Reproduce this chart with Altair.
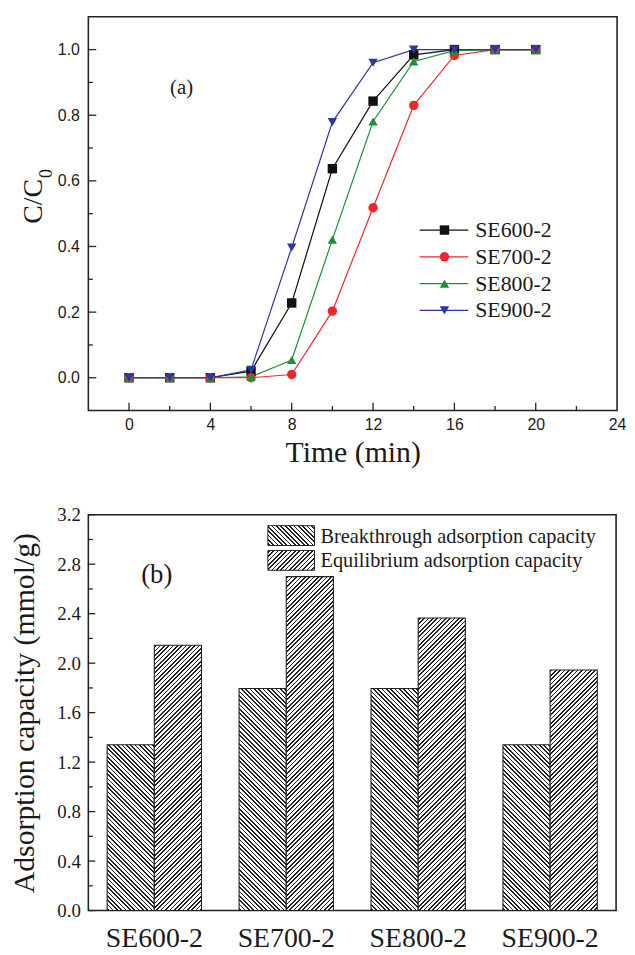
import math
import altair as alt
import pandas as pd

# ---------------- panel (a): breakthrough curves ----------------
time_min = [0, 2, 4, 6, 8, 10, 12, 14, 16, 18, 20]
series_names = ["SE600-2", "SE700-2", "SE800-2", "SE900-2"]
ratio_se600 = [0.0, 0.0, 0.0, 0.020, 0.228, 0.637, 0.843, 0.984, 1.0, 1.0, 1.0]
ratio_se700 = [0.0, 0.0, 0.0, 0.000, 0.010, 0.203, 0.518, 0.830, 0.982, 1.0, 1.0]
ratio_se800 = [0.0, 0.0, 0.0, 0.003, 0.054, 0.421, 0.781, 0.964, 0.997, 1.0, 1.0]
ratio_se900 = [0.0, 0.0, 0.0, 0.024, 0.397, 0.779, 0.960, 1.0, 1.0, 1.0, 1.0]
series_colors = ["#111111", "#f0262b", "#1f9035", "#2b36a8"]
series_shapes = ["square", "circle", "triangle-up", "triangle-down"]
x_major = [0, 4, 8, 12, 16, 20, 24]
x_minor = [2, 6, 10, 14, 18, 22]
y_major = [0.0, 0.2, 0.4, 0.6, 0.8, 1.0]
y_minor = [0.1, 0.3, 0.5, 0.7, 0.9]

# ---------------- panel (b): adsorption capacities ----------------
samples = ["SE600-2", "SE700-2", "SE800-2", "SE900-2"]
breakthrough = [1.34, 1.795, 1.795, 1.34]
equilibrium = [2.145, 2.70, 2.365, 1.945]
cap_kinds = ["Breakthrough adsorption capacity", "Equilibrium adsorption capacity"]
b_major = [0.0, 0.4, 0.8, 1.2, 1.6, 2.0, 2.4, 2.8, 3.2]
b_minor = [0.2, 0.6, 1.0, 1.4, 1.8, 2.2, 2.6, 3.0]

A_W, A_H = 533, 397
B_W, B_H = 532, 399
SERIF = "Liberation Serif"
SANS = "Liberation Sans"
INK = "#1a1a1a"


def hatch(w, h, back, spacing=3.1, line=1.2, ink="#222222", paper="#ffffff"):
    """Diagonal hatch as a hard-stop linear gradient (45 deg in screen space)."""
    L = (w + h) / math.sqrt(2)
    k = (w + h) / (w * w + h * h)
    if back:
        x1, y1, x2, y2 = 0, 1, k * w, 1 - k * h
    else:
        x1, y1, x2, y2 = 0, 0, k * w, k * h
    stops = []
    i = 0
    while True:
        a = (i * spacing + 0.8) / L
        if a >= 1:
            break
        b = min((i * spacing + 0.8 + line) / L, 1.0)
        stops += [(a, paper), (a, ink), (b, ink), (b, paper)]
        i += 1
    return {
        "gradient": "linear",
        "x1": x1, "y1": y1, "x2": x2, "y2": y2,
        "stops": [{"offset": round(o, 6), "color": c} for o, c in stops],
    }


# ---- panel (a) chart
rows_a = []
for name, vals in zip(series_names, [ratio_se600, ratio_se700, ratio_se800, ratio_se900]):
    for t, v in zip(time_min, vals):
        rows_a.append({"series": name, "time": t, "value": v})
df_a = pd.DataFrame(rows_a)

xa = alt.X(
    "time:Q",
    scale=alt.Scale(domain=[-2, 24], nice=False, zero=False),
    axis=alt.Axis(
        values=x_major, title="Time (min)", ticks=False, domain=False, grid=False,
        labelFont=SANS, labelFontSize=16, labelPadding=6, labelColor=INK, labelFlush=False,
        titleFont=SERIF, titleFontSize=30, titleFontWeight="normal", titlePadding=5,
        titleColor=INK,
    ),
)
ya = alt.Y(
    "value:Q",
    scale=alt.Scale(domain=[-0.1, 1.1], nice=False, zero=False),
    axis=alt.Axis(
        values=y_major, format=".1f", title=None, ticks=False, domain=False, grid=False,
        labelFont=SANS, labelFontSize=16, labelPadding=9, labelColor=INK,
    ),
)
color_a = alt.Color("series:N", scale=alt.Scale(domain=series_names, range=series_colors), legend=None)
shape_a = alt.Shape("series:N", scale=alt.Scale(domain=series_names, range=series_shapes), legend=None)

lines_a = alt.Chart(df_a).mark_line(strokeWidth=1.2).encode(x=xa, y=ya, color=color_a, detail="series:N")
points_a = alt.Chart(df_a).mark_point(filled=True, size=90, opacity=1).encode(
    x=xa, y=ya, color=color_a, shape=shape_a
)

tick_style = dict(color="#222", strokeWidth=1.3)
ya_major_t = alt.Chart(pd.DataFrame({"value": y_major})).mark_rule(**tick_style).encode(
    y=ya, x=alt.value(0), x2=alt.value(8))
ya_minor_t = alt.Chart(pd.DataFrame({"value": y_minor})).mark_rule(**tick_style).encode(
    y=ya, x=alt.value(0), x2=alt.value(4.5))
xa_major_t = alt.Chart(pd.DataFrame({"time": x_major[:-1]})).mark_rule(**tick_style).encode(
    x=xa, y=alt.value(A_H), y2=alt.value(A_H - 8))
xa_minor_t = alt.Chart(pd.DataFrame({"time": x_minor})).mark_rule(**tick_style).encode(
    x=xa, y=alt.value(A_H), y2=alt.value(A_H - 4.5))

label_a = alt.Chart(pd.DataFrame({"t": ["(a)"]})).mark_text(font=SERIF, fontSize=21, color=INK).encode(
    text="t:N", x=alt.value(94), y=alt.value(72))
ytitle_main = alt.Chart(pd.DataFrame({"t": ["C/C"]})).mark_text(
    font=SERIF, fontSize=28, angle=270, align="center", baseline="middle", color=INK
).encode(text="t:N", x=alt.value(-55), y=alt.value(186))
ytitle_sub = alt.Chart(pd.DataFrame({"t": ["0"]})).mark_text(
    font=SERIF, fontSize=18, angle=270, align="center", baseline="middle", color=INK
).encode(text="t:N", x=alt.value(-42), y=alt.value(158))

leg_a = pd.DataFrame({"series": series_names, "idx": list(range(len(series_names)))})
leg_base = alt.Chart(leg_a).transform_calculate(ly="215 + 27 * datum.idx")
ly = alt.Y("ly:Q", scale=None, axis=None)
leg_lines = leg_base.mark_rule(strokeWidth=1.2).encode(
    x=alt.value(334), x2=alt.value(383), y=ly, color=color_a)
leg_pts = leg_base.mark_point(filled=True, size=90, opacity=1).encode(
    x=alt.value(359), y=ly, color=color_a, shape=shape_a)
leg_txt = leg_base.mark_text(font=SERIF, fontSize=22, align="left", baseline="middle", color=INK).encode(
    x=alt.value(390), y=ly, text="series:N")

panel_a = alt.layer(
    ya_major_t, ya_minor_t, xa_major_t, xa_minor_t, lines_a, points_a,
    label_a, ytitle_main, ytitle_sub, leg_lines, leg_pts, leg_txt,
).properties(width=A_W, height=A_H)

# ---- panel (b) chart
bar_rows = []
for s, bt, eq in zip(samples, breakthrough, equilibrium):
    bar_rows.append({"sample": s, "kind": cap_kinds[0], "capacity": bt})
    bar_rows.append({"sample": s, "kind": cap_kinds[1], "capacity": eq})
df_b = pd.DataFrame(bar_rows)

PAD_IN = 0.285
xb = alt.X(
    "sample:N",
    scale=alt.Scale(domain=samples, paddingInner=PAD_IN, paddingOuter=PAD_IN / 2),
    axis=alt.Axis(
        title=None, labelAngle=0, ticks=False, domain=False, grid=False,
        labelFont=SERIF, labelFontSize=28, labelPadding=14, labelColor=INK,
    ),
)
xo = alt.XOffset("kind:N", scale=alt.Scale(domain=cap_kinds, paddingInner=0, paddingOuter=0))
yb = alt.Y(
    "capacity:Q",
    scale=alt.Scale(domain=[0, 3.2], nice=False, zero=True),
    axis=alt.Axis(
        values=b_major, format=".1f", title="Adsorption capacity (mmol/g)",
        ticks=False, domain=False, grid=False,
        labelFont=SERIF, labelFontSize=19, labelPadding=8, labelColor=INK,
        titleFont=SERIF, titleFontSize=30, titleFontWeight="normal", titlePadding=18,
        titleColor=INK,
    ),
)

bar_w = B_W / len(samples) * (1 - PAD_IN) / 2
bar_layers = []
for r in bar_rows:
    h = r["capacity"] / 3.2 * B_H
    grad = hatch(bar_w, h, r["kind"] == cap_kinds[0])
    bar_layers.append(
        alt.Chart(df_b)
        .transform_filter((alt.datum.sample == r["sample"]) & (alt.datum.kind == r["kind"]))
        .mark_bar(fill=grad, stroke="#222", strokeWidth=1.1)
        .encode(x=xb, xOffset=xo, y=yb)
    )

yb_major_t = alt.Chart(pd.DataFrame({"capacity": b_major})).mark_rule(**tick_style).encode(
    y=yb, x=alt.value(0), x2=alt.value(7))
yb_minor_t = alt.Chart(pd.DataFrame({"capacity": b_minor})).mark_rule(**tick_style).encode(
    y=yb, x=alt.value(0), x2=alt.value(4.5))

label_b = alt.Chart(pd.DataFrame({"t": ["(b)"]})).mark_text(font=SERIF, fontSize=27, color=INK).encode(
    text="t:N", x=alt.value(69), y=alt.value(61))

leg_b_layers = []
for i, kind in enumerate(cap_kinds):
    top = 11 + 25 * i
    box = alt.Chart(pd.DataFrame({"kind": [kind]})).mark_rect(
        fill=hatch(47, 20, i == 0), stroke="#222", strokeWidth=1.0
    ).encode(x=alt.value(181), x2=alt.value(228), y=alt.value(top), y2=alt.value(top + 20))
    txt = alt.Chart(pd.DataFrame({"kind": [kind]})).mark_text(
        font=SERIF, fontSize=20.5, align="left", baseline="middle", color=INK
    ).encode(text="kind:N", x=alt.value(234), y=alt.value(top + 11))
    leg_b_layers += [box, txt]

panel_b = alt.layer(
    *bar_layers, yb_major_t, yb_minor_t, label_b, *leg_b_layers
).properties(width=B_W, height=B_H)

chart = (
    alt.vconcat(panel_a, panel_b, spacing=37)
    .properties(padding={"left": 0, "top": 4, "right": 0, "bottom": 0}, background="white")
    .configure_view(stroke="#222", strokeWidth=1.6)
)

chart.save("out.html", embed_options={"renderer": "svg", "actions": False})
